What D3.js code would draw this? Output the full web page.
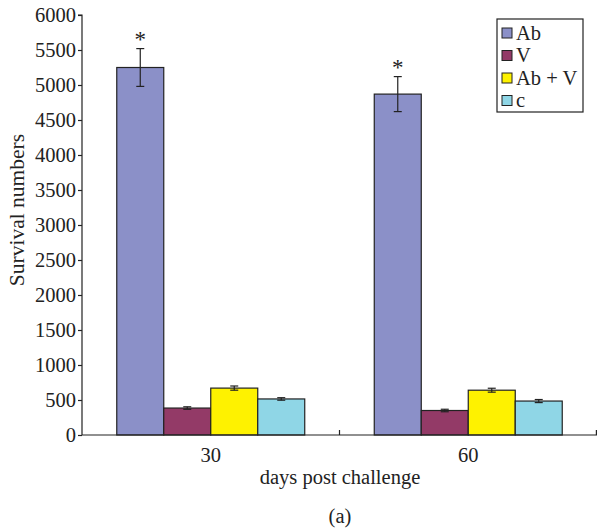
<!DOCTYPE html>
<html><head><meta charset="utf-8">
<script src="https://cdn.jsdelivr.net/npm/d3@7"></script>
<style>body{margin:0;background:#fff}svg{display:block}text{font-family:"Liberation Serif","Times New Roman",serif;fill:#222}</style>
</head><body>
<svg id="c" width="597" height="532"></svg>
<script>
const categories = ["30", "60"];
const series = ["Ab", "V", "Ab + V", "c"];
const colors = ["#8b90c8", "#933a67", "#fef200", "#8fd6e6"];
const values = [[5250, 385, 670, 515], [4870, 350, 640, 485]];
const errors = [[270, 18, 30, 18], [250, 18, 28, 22]];
const starred = [[true, false, false, false], [true, false, false, false]];
const yTicks = [0, 500, 1000, 1500, 2000, 2500, 3000, 3500, 4000, 4500, 5000, 5500, 6000];

const svg = d3.select("#c");
const L = 82, R = 597, T = 15, B = 435;
const y = d3.scaleLinear().domain([0, 6000]).range([B, T]);
const x0 = d3.scaleBand().domain(categories).range([L, R]).paddingInner(0.27).paddingOuter(0.135);
const x1 = d3.scaleBand().domain(series).range([0, x0.bandwidth()]);
const ink = "#222";
const fs = 20.5;

// bars
categories.forEach((cat, ci) => {
  const g = svg.append("g").attr("transform", `translate(${x0(cat)},0)`);
  series.forEach((s, si) => {
    const v = values[ci][si], e = errors[ci][si];
    g.append("rect").attr("x", x1(s)).attr("y", y(v)).attr("width", x1.bandwidth()).attr("height", y(0) - y(v))
      .attr("fill", colors[si]).attr("stroke", ink).attr("stroke-width", 1.2);
    const cx = x1(s) + x1.bandwidth() / 2;
    g.append("line").attr("x1", cx).attr("x2", cx).attr("y1", y(v + e)).attr("y2", y(v - e)).attr("stroke", ink).attr("stroke-width", 1.2);
    [v + e, v - e].forEach(w => g.append("line").attr("x1", cx - 4).attr("x2", cx + 4).attr("y1", y(w)).attr("y2", y(w)).attr("stroke", ink).attr("stroke-width", 1.2));
    if (starred[ci][si]) g.append("text").attr("x", cx).attr("y", y(v + e) - 2).attr("text-anchor", "middle").attr("font-size", 23).text("*");
  });
});

// y axis
const ya = svg.append("g").attr("transform", `translate(${L},0)`)
  .call(d3.axisLeft(y).tickValues(yTicks).tickSize(4).tickPadding(2).tickFormat(d3.format("d")));
ya.select(".domain").attr("stroke", ink).attr("stroke-width", 1.2).attr("d", `M-4,${T}H0V${B}`);
ya.selectAll(".tick line").attr("stroke", ink).attr("stroke-width", 1.2);
ya.selectAll(".tick text").attr("font-size", fs).attr("font-family", "Liberation Serif").attr("fill", ink).attr("dy", "0.33em");

// x axis
svg.append("line").attr("x1", L).attr("x2", R).attr("y1", B).attr("y2", B).attr("stroke", ink).attr("stroke-width", 1.2);
const bounds = [x0.step() + L, R - 0.6];
bounds.forEach(bx => svg.append("line").attr("x1", bx).attr("x2", bx).attr("y1", B).attr("y2", B - 5).attr("stroke", ink).attr("stroke-width", 1.2));
categories.forEach(cat => svg.append("text").attr("x", x0(cat) + x0.bandwidth() / 2).attr("y", 462).attr("text-anchor", "middle").attr("font-size", fs).text(cat));

svg.append("text").attr("x", 340).attr("y", 484).attr("text-anchor", "middle").attr("font-size", fs).text("days post challenge");
svg.append("text").attr("x", 340).attr("y", 523).attr("text-anchor", "middle").attr("font-size", fs).text("(a)");
svg.append("text").attr("transform", "translate(24,210) rotate(-90)").attr("text-anchor", "middle").attr("font-size", 21.5).text("Survival numbers");

// legend
const lg = svg.append("g").attr("transform", "translate(497,19)");
lg.append("rect").attr("width", 86).attr("height", 93).attr("fill", "#fff").attr("stroke", ink).attr("stroke-width", 1.2);
series.forEach((s, i) => {
  const yy = 14 + i * 22.5;
  lg.append("rect").attr("x", 5).attr("y", yy - 5).attr("width", 10).attr("height", 10).attr("fill", colors[i]).attr("stroke", ink).attr("stroke-width", 1);
  lg.append("text").attr("x", 19).attr("y", yy).attr("dy", "0.33em").attr("font-size", fs).text(s);
});
</script>
</body></html>
